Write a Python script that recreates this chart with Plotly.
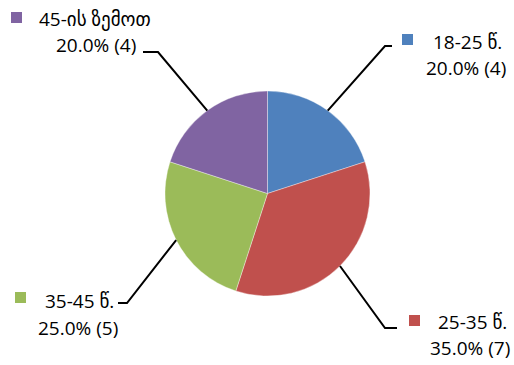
import math
import plotly.graph_objects as go

# ---- data ----
categories = ["18-25 წ.", "25-35 წ.", "35-45 წ.", "45-ის ზემოთ"]
counts = [4, 7, 5, 4]
colors = ["#4F81BD", "#C0504D", "#9BBB59", "#8064A2"]

W, H = 514, 365
CX, CY, R = 267.5, 193.5, 102.5

def px(x):
    return x / W

def py(y):
    return 1 - y / H

fig = go.Figure(go.Pie(
    labels=categories,
    values=counts,
    sort=False,
    direction="clockwise",
    rotation=0,
    marker=dict(colors=colors, line=dict(color="rgba(255,255,255,0.6)", width=0.6)),
    textinfo="none",
    hoverinfo="label+value+percent",
    domain=dict(x=[px(CX - R), px(CX + R)], y=[py(CY + R), py(CY - R)]),
    showlegend=False,
))

total = sum(counts)
# layout positions (pixels) for each label: elbow point, line end, square, text centers
label_layout = [
    dict(elbow=(385, 46), end=(392, 46), sq=(402, 34), t1=(467, 42), t2=(466, 68)),
    dict(elbow=(385, 328), end=(397, 328), sq=(409, 315), t1=(472, 322), t2=(470, 348)),
    dict(elbow=(127, 303), end=(118, 303), sq=(15, 292), t1=(79, 301), t2=(78, 328)),
    dict(elbow=(158, 52), end=(143, 52), sq=(11, 12), t1=(95, 19), t2=(96, 45)),
]

shapes = []
annotations = []
cum = 0
for cat, v, col, lay in zip(categories, counts, colors, label_layout):
    mid = (cum + v / 2) / total * 2 * math.pi
    cum += v
    sx = CX + R * math.sin(mid)
    sy = CY - R * math.cos(mid)
    ex, ey = lay["elbow"]
    fx, fy = lay["end"]
    path = f"M {px(sx)} {py(sy)} L {px(ex)} {py(ey)} L {px(fx)} {py(fy)}"
    shapes.append(dict(type="path", xref="paper", yref="paper", path=path,
                       line=dict(color="black", width=2)))
    qx, qy = lay["sq"]
    shapes.append(dict(type="rect", xref="paper", yref="paper",
                       x0=px(qx), x1=px(qx + 11), y0=py(qy + 11), y1=py(qy),
                       fillcolor=col, line=dict(width=0)))
    pct = v / total * 100
    for txt, (tx, ty) in [(cat, lay["t1"]), (f"{pct:.1f}% ({v})", lay["t2"])]:
        annotations.append(dict(x=px(tx), y=py(ty), xref="paper", yref="paper",
                                text=txt, showarrow=False, xanchor="center", yanchor="middle",
                                font=dict(family="Open Sans, DejaVu Sans, sans-serif", size=19, color="black")))

fig.update_layout(
    width=W, height=H,
    margin=dict(l=0, r=0, t=0, b=0),
    paper_bgcolor="white",
    plot_bgcolor="white",
    shapes=shapes,
    annotations=annotations,
)

fig.write_html("out.html", config={"displayModeBar": False},
               post_script="document.body.style.margin='0';document.body.style.overflow='hidden';")
